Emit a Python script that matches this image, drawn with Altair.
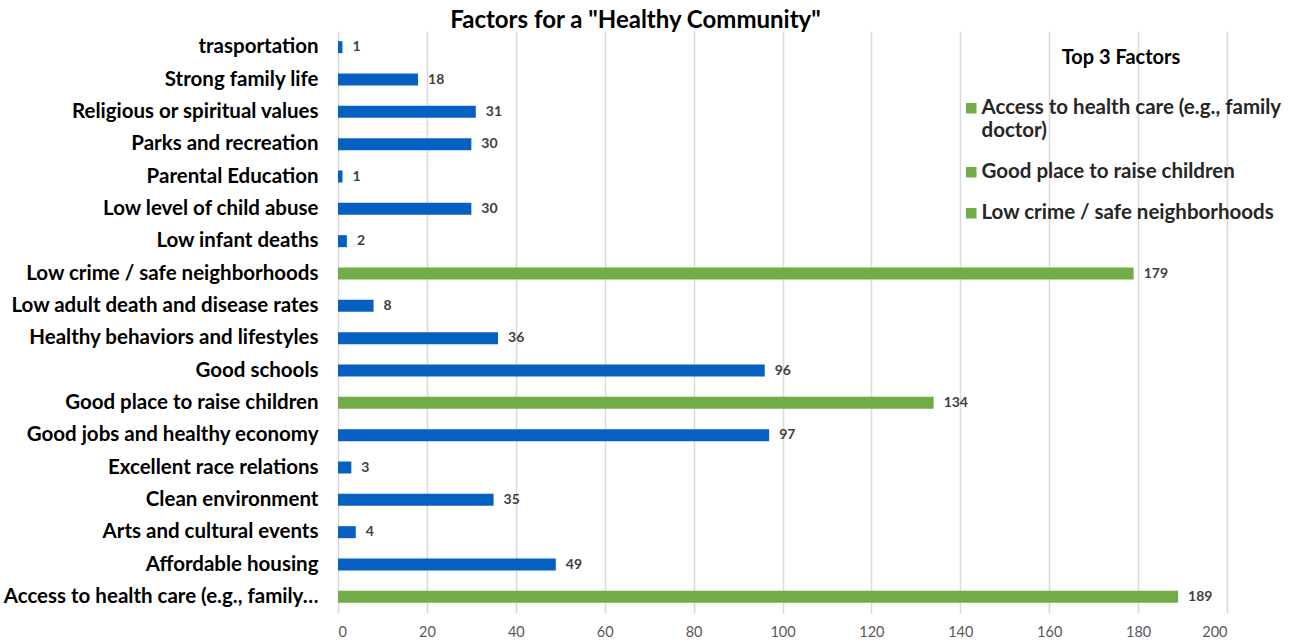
import altair as alt
import pandas as pd

categories = [
    "trasportation", "Strong family life", "Religious or spiritual values",
    "Parks and recreation", "Parental Education", "Low level of child abuse",
    "Low infant deaths", "Low crime / safe neighborhoods",
    "Low adult death and disease rates", "Healthy behaviors and lifestyles",
    "Good schools", "Good place to raise children", "Good jobs and healthy economy",
    "Excellent race relations", "Clean environment", "Arts and cultural events",
    "Affordable housing", "Access to health care (e.g., family doctor)",
]
values = [1, 18, 31, 30, 1, 30, 2, 179, 8, 36, 96, 134, 97, 3, 35, 4, 49, 189]
top3 = [
    "Access to health care (e.g., family doctor)",
    "Good place to raise children",
    "Low crime / safe neighborhoods",
]
x_ticks = [0, 20, 40, 60, 80, 100, 120, 140, 160, 180, 200]

BLUE = "#0660C2"
GREEN = "#70AD47"
FONT = "Lato"

df = pd.DataFrame({
    "factor": categories,
    "count": values,
    "group": [c if c in top3 else "Other" for c in categories],
})

y_enc = alt.Y(
    "factor:N", sort=categories, title=None,
    scale=alt.Scale(paddingInner=0.0, paddingOuter=0.0),
    axis=alt.Axis(domain=False, ticks=False, labelFontSize=20.5, labelFontWeight="bold",
                  labelColor="#000000", labelPadding=20, labelLimit=400, labelFont=FONT,
                  labelExpr="datum.label == 'Access to health care (e.g., family doctor)' ? 'Access to health care (e.g., family\u2026' : datum.label"),
)
x_enc = alt.X(
    "count:Q", title=None,
    scale=alt.Scale(domain=[0, 200], nice=False),
    axis=alt.Axis(values=x_ticks, domain=False, ticks=False, grid=True, gridColor="#D9D9D9",
                  gridWidth=1.5, labelColor="#595959", labelFontSize=14.5, labelPadding=12,
                  labelFont=FONT),
)

bars = alt.Chart(df).mark_bar(size=12).encode(
    y=y_enc,
    x=x_enc,
    color=alt.Color(
        "group:N",
        scale=alt.Scale(domain=top3 + ["Other"], range=[GREEN, GREEN, GREEN, BLUE]),
        legend=alt.Legend(
            values=top3, title="Top 3 Factors", orient="none", legendX=623, legendY=17,
            titleAnchor="middle", titleFontSize=20, titleFontWeight="bold", titleFont=FONT,
            titleColor="#000000", titlePadding=30,
            labelFontSize=20.5, labelFontWeight="bold", labelFont=FONT, labelColor="#262626",
            labelLimit=400, symbolType="square", symbolSize=110, symbolStrokeWidth=0,
            rowPadding=20, labelOffset=0,
            labelExpr="datum.label == 'Access to health care (e.g., family doctor)' ? ['Access to health care (e.g., family', 'doctor)'] : datum.label",
        ),
    ),
)

labels = alt.Chart(df).mark_text(
    align="left", baseline="middle", dx=10, fontSize=14, fontWeight="bold",
    color="#404040", font=FONT,
).encode(y=alt.Y("factor:N", sort=categories), x="count:Q", text="count:Q")

chart = (bars + labels).properties(
    width=889, height=582,
    title=alt.TitleParams('Factors for a "Healthy Community"', fontSize=24, fontWeight="bold",
                          font=FONT, color="#000000", anchor="middle", dx=-147, offset=-2),
    autosize=alt.AutoSizeParams(type="none"),
    padding={"left": 338, "top": 31, "right": 72, "bottom": 30},
).configure_view(stroke=None)

chart.save("out.html", embed_options={"renderer": "svg", "actions": False})
